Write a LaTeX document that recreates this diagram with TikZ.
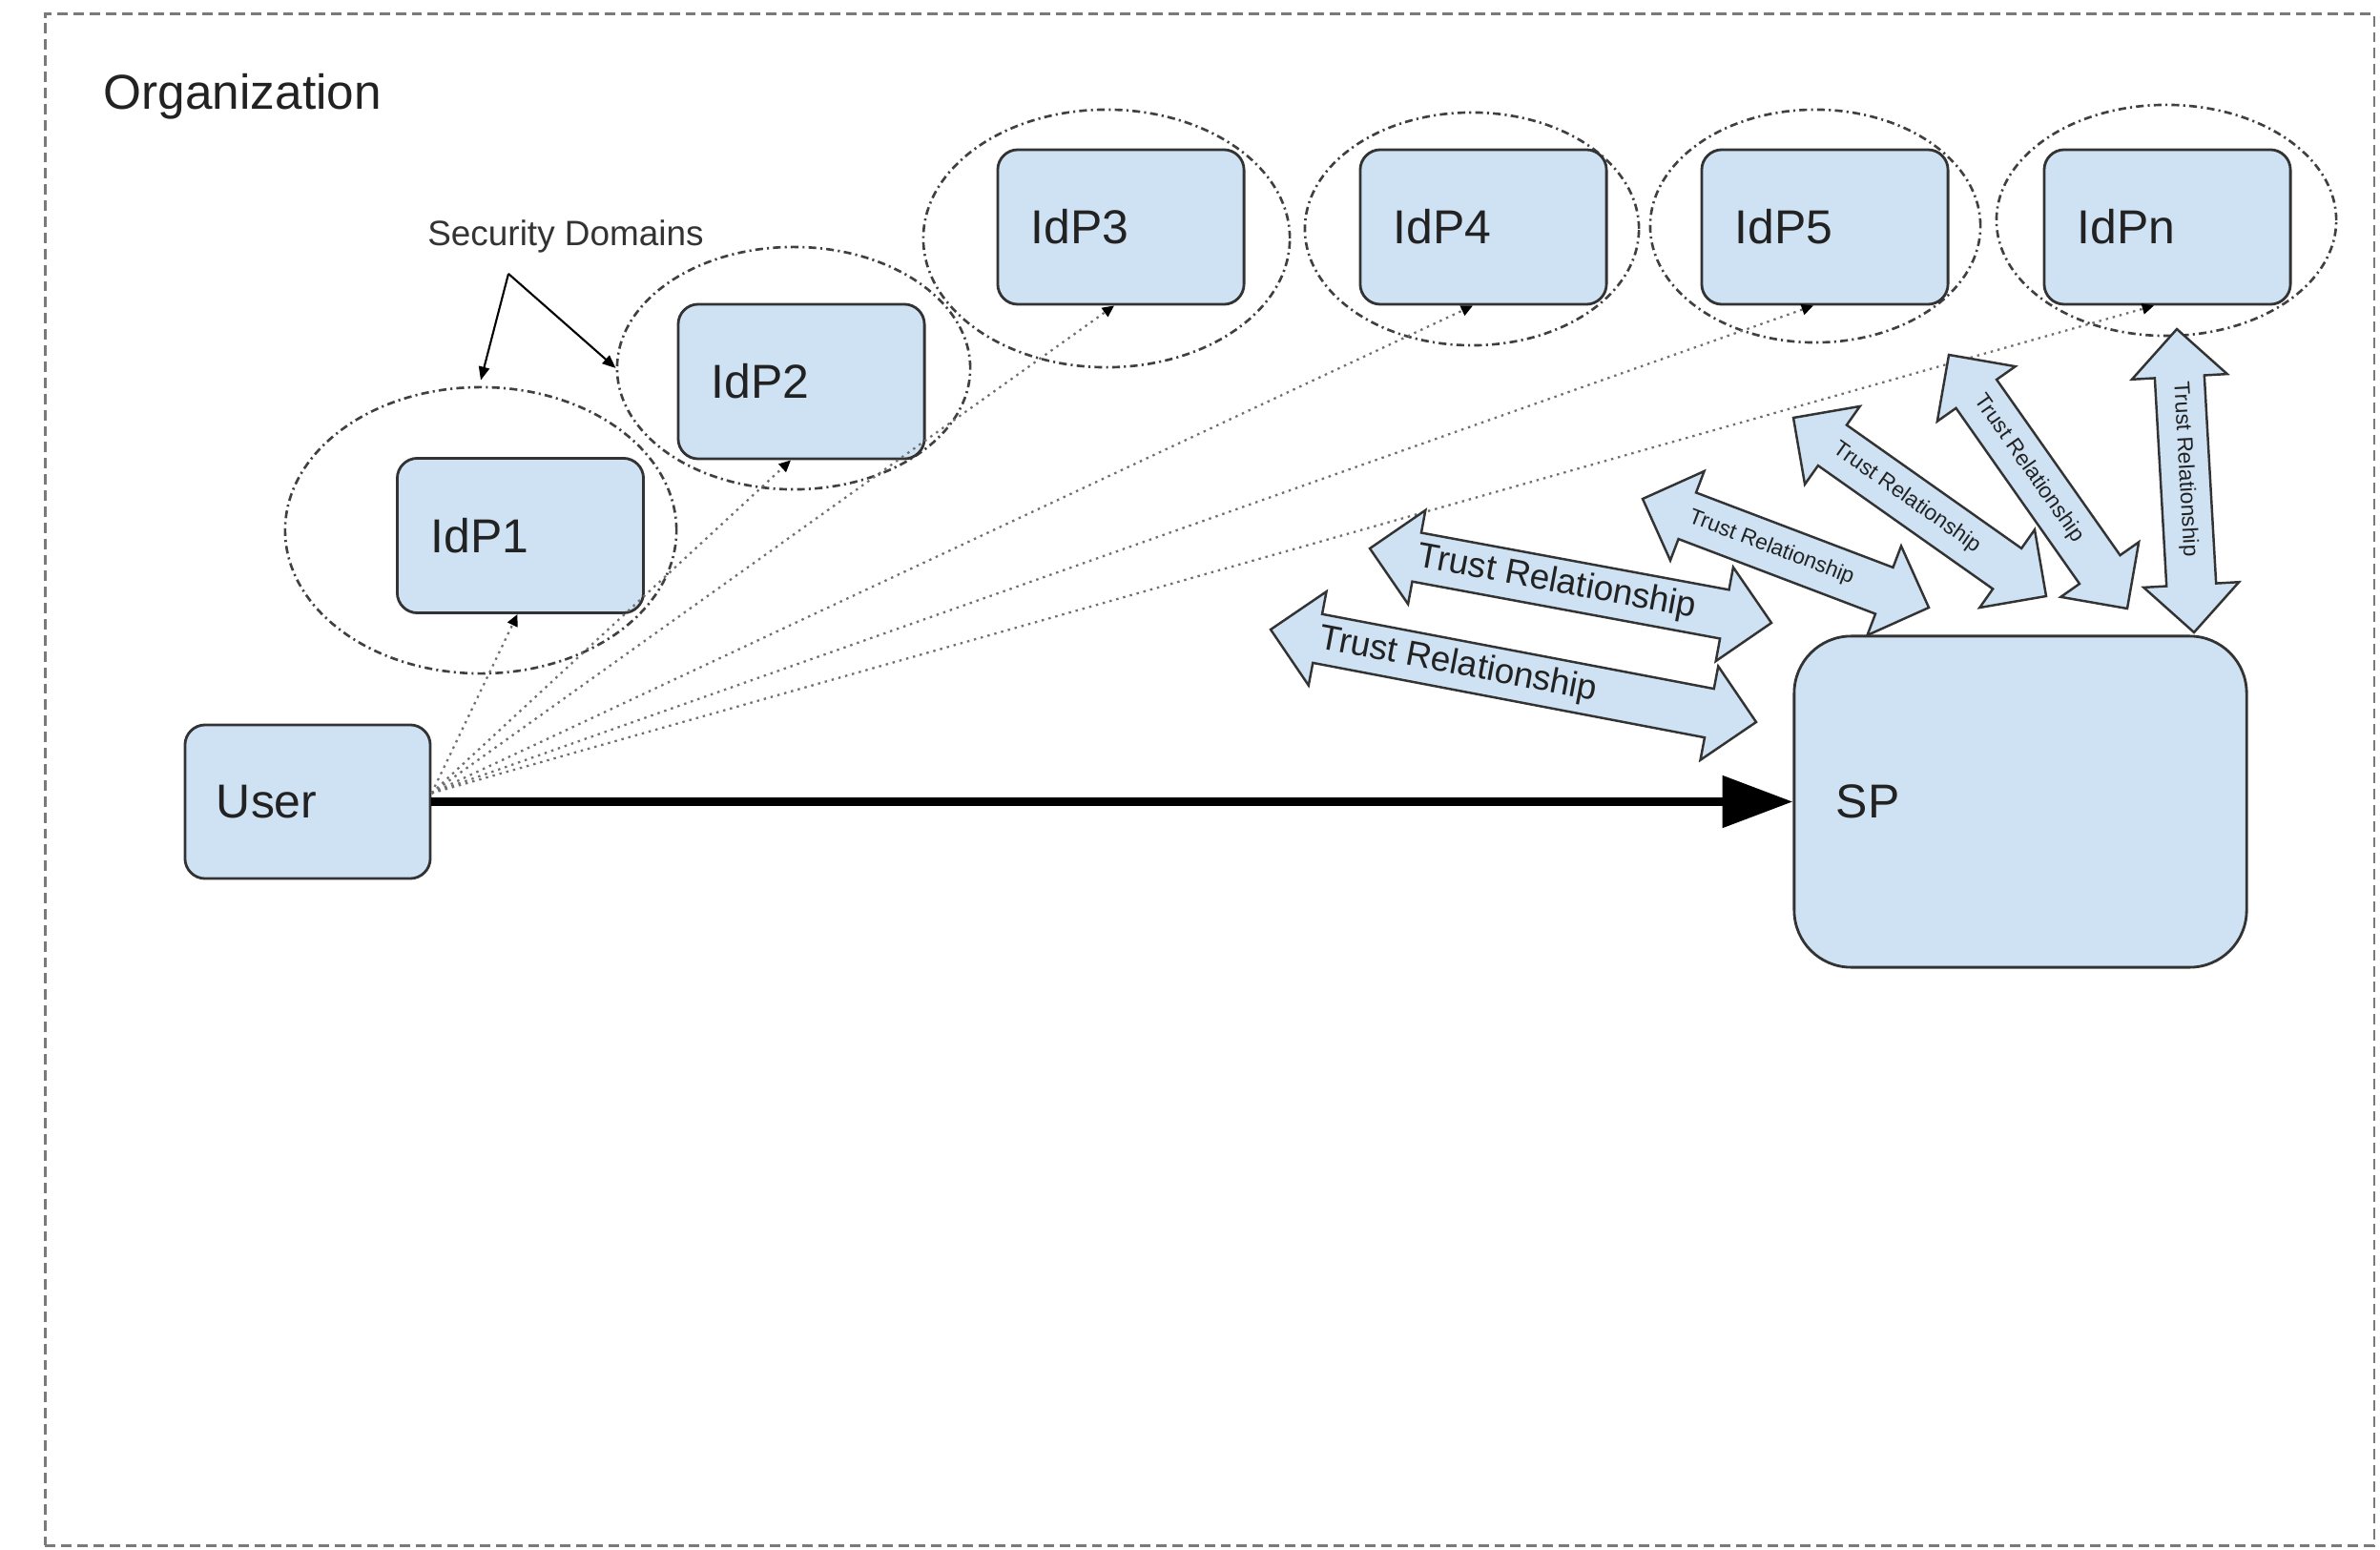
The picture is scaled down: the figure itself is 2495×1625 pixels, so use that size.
\documentclass[tikz,border=0pt]{standalone}
\usepackage{fontspec}
\setmainfont{Liberation Sans}
\usetikzlibrary{arrows.meta,calc,shapes.geometric}
\definecolor{boxfill}{HTML}{CFE2F3}
\definecolor{boxline}{HTML}{333333}
\definecolor{txt}{HTML}{222222}
\definecolor{dotgray}{HTML}{707070}
\definecolor{bordergray}{HTML}{7A7A7A}
\definecolor{ellgray}{HTML}{404040}
\newcommand\TrustArrow[2]{%
  \coordinate (#1-b1) at ($(#1)!0.5cm!(#2)$);
  \coordinate (#1-b2) at ($(#2)!0.5cm!(#1)$);
  \draw[trustarr] (#1)
    -- ($(#1-b1)!0.5cm!90:(#2)$)
    -- ($(#1-b1)!0.26cm!90:(#2)$)
    -- ($(#1-b2)!0.26cm!-90:(#1)$)
    -- ($(#1-b2)!0.5cm!-90:(#1)$)
    -- (#2)
    -- ($(#1-b2)!0.5cm!90:(#1)$)
    -- ($(#1-b2)!0.26cm!90:(#1)$)
    -- ($(#1-b1)!0.26cm!-90:(#2)$)
    -- ($(#1-b1)!0.5cm!-90:(#2)$)
    -- cycle;}
\newcommand\TrustText[4]{%
  \path let \p1=(#1), \p2=(#2), \n1={atan2(\y2-\y1,\x2-\x1)} in
    node[#4, rotate=\n1] (#1-t) at ($(#1)!#3!(#2)$) {Trust Relationship};}
\begin{document}
\begin{tikzpicture}[x=0.01cm, y=-0.01cm,
  box/.style={draw=boxline, line width=0.8pt, fill=boxfill, rounded corners=6pt,
    minimum height=1.62cm, text width=1.88cm, inner xsep=0.35cm, inner ysep=0pt,
    align=left, text=txt, font=\fontsize{14.2pt}{17pt}\selectfont},
  secdomain/.style={ellipse, draw=ellgray, line width=0.75pt,
    dash pattern=on 2.3pt off 1.2pt on 0.6pt off 1.2pt, inner sep=0pt},
  access/.style={draw=dotgray, line width=0.65pt, dash pattern=on 0.7pt off 1.4pt,
    -{Triangle[length=3.5pt,width=3.2pt,color=black]}},
  mainarr/.style={draw=black, line width=2.6pt, -{Triangle[length=21pt,width=15pt]}},
  sdarrow/.style={draw=black, line width=0.6pt, -{Triangle[length=4pt,width=3.2pt]}},
  trustarr/.style={draw=boxline, line width=0.7pt, fill=boxfill},
  bigtrust/.style={inner sep=0pt, text=txt, font=\fontsize{10.5pt}{12pt}\selectfont},
  smalltrust/.style={inner sep=0pt, text=txt, font=\fontsize{6.5pt}{8pt}\selectfont},
  orgframe/.style={draw=bordergray, line width=0.7pt, dash pattern=on 3.1pt off 1.7pt, inner sep=0pt},
  plainlabel/.style={inner sep=0pt, text=txt}
]
\useasboundingbox (0,0) rectangle (2495,1625);
\node[orgframe, minimum width=24.4cm, minimum height=16.05cm] (frame) at (1268,817.5) {};
\node[plainlabel, anchor=base west, font=\fontsize{14.6pt}{17pt}\selectfont] (org) at (108,115) {Organization};

% security domains
\node[secdomain, minimum width=4.1cm, minimum height=3.0cm] (e1) at (504,556) {};
\node[secdomain, minimum width=3.7cm, minimum height=2.54cm] (e2) at (832,386) {};
\node[secdomain, minimum width=3.84cm, minimum height=2.7cm] (e3) at (1160,250) {};
\node[secdomain, minimum width=3.5cm, minimum height=2.44cm] (e4) at (1543,240) {};
\node[secdomain, minimum width=3.46cm, minimum height=2.44cm] (e5) at (1903,237) {};
\node[secdomain, minimum width=3.56cm, minimum height=2.42cm] (en) at (2271,231) {};

\node[plainlabel, anchor=base, text=boxline, font=\fontsize{10.5pt}{12pt}\selectfont] (sd) at (593,258) {Security Domains};
\coordinate (sdv) at (533,287);
\draw[sdarrow] (sdv) -- ([yshift=0.06cm]e1.north);
\draw[sdarrow] (sdv) -- (e2.west);

% boxes
\node[box] (idp1) at (545.5,561.5) {IdP1};
\node[box] (idp2) at (840,400) {IdP2};
\node[box] (idp3) at (1175,238) {IdP3};
\node[box] (idp4) at (1555,238) {IdP4};
\node[box] (idp5) at (1913,238) {IdP5};
\node[box] (idpn) at (2272,238) {IdPn};
\node[box, text width=1.91cm, inner xsep=0.33cm, minimum height=1.61cm] (user) at (322.5,840.5) {User};
\node[box, rounded corners=17pt, text width=3.86cm, inner xsep=0.44cm, minimum height=3.47cm] (sp) at (2118,840.5) {SP};

% access lines
\coordinate (ustart) at ([yshift=0.09cm]user.east);
\foreach \n/\s in {1/-0.03, 2/-0.11, 3/-0.07, 4/-0.11, 5/-0.12, n/-0.14}
  \draw[access] (ustart) -- ([xshift=\s cm]idp\n.south);

% main flow
\draw[mainarr] (user.east) -- (sp.west);

% trust relationships
\coordinate (tA) at (1332,660);  \coordinate (tAe) at (1841,757);
\coordinate (tB) at (1436,575);  \coordinate (tBe) at (1857,653);
\coordinate (tC) at (1722,523);  \coordinate (tCe) at (2022,637);
\coordinate (tD) at (1880,438);  \coordinate (tDe) at (2145,625);
\coordinate (tE) at (2043,372);  \coordinate (tEe) at (2230,638);
\coordinate (tF) at (2282,345);  \coordinate (tFe) at (2300,663);
\TrustArrow{tA}{tAe}
\TrustText{tA}{tAe}{0.386}{bigtrust}
\TrustArrow{tB}{tBe}
\TrustText{tB}{tBe}{0.466}{bigtrust}
\TrustArrow{tC}{tCe}
\TrustText{tC}{tCe}{0.45}{smalltrust}
\TrustArrow{tD}{tDe}
\TrustText{tD}{tDe}{0.448}{smalltrust}
\TrustArrow{tE}{tEe}
\TrustText{tE}{tEe}{0.448}{smalltrust}
\TrustArrow{tF}{tFe}
\TrustText{tF}{tFe}{0.462}{smalltrust}
\end{tikzpicture}
\end{document}
